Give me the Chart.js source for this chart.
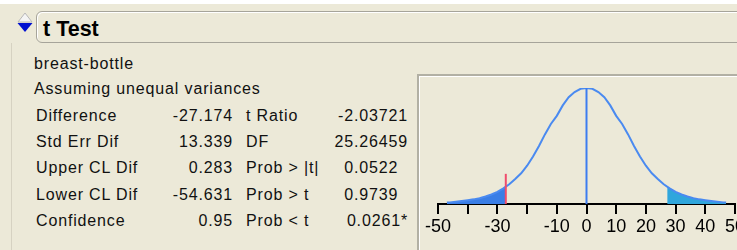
<!DOCTYPE html>
<html>
<head>
<meta charset="utf-8">
<script src="https://cdn.jsdelivr.net/npm/chart.js@4"></script>
<style>
  body { margin: 0; width: 737px; height: 250px; overflow: hidden; position: relative;
         background: #ECE9D8; font-family: "Liberation Sans", Arial, sans-serif; color: #111; }
  .topstrip { position: absolute; left: 0; top: 0; width: 737px; height: 4px; background: #fff; }
  .leftline { position: absolute; left: 11px; top: 43px; width: 1px; height: 207px; background: #D6D2C2; }
  .header { position: absolute; left: 36px; top: 11px; width: 720px; height: 30px;
            border: 1px solid #A6A49A; border-radius: 6px 0 0 6px; box-shadow: inset 1px 1px 0 #fff; }
  .title { position: absolute; left: 43px; top: 15.5px; font: bold 21.5px/26px "Liberation Sans", Arial, sans-serif; color: #000; }
  .txt { position: absolute; font-size: 16px; line-height: 20px; letter-spacing: 0.85px; white-space: nowrap; }
  .frame { position: absolute; left: 417px; top: 74px; width: 340px; height: 190px;
           border-top: 2px solid #B2B0A4; border-left: 2px solid #B2B0A4; box-shadow: inset 1px 1px 0 #fff; }
  #chartWrap { position: absolute; left: 417px; top: 76px; }
</style>
</head>
<body>
<div class="topstrip"></div>
<div class="leftline"></div>
<div class="header"></div>
<svg style="position:absolute;left:16px;top:12px" width="18" height="22">
  <polygon points="9,1 16,10 2,10" fill="#F4F4F4" stroke="#B8B8B8" stroke-width="1"/>
  <polygon points="1.5,11 16.5,11 9,20" fill="#0010D0"/>
</svg>
<div class="title">t Test</div>
<div class="frame"></div>
<div id="chartWrap"><canvas id="tChart" width="360" height="174"></canvas></div>

<script>
// summary text
const groupName = 'breast-bottle';
const noteText = 'Assuming unequal variances';
const statLabels = ['Difference', 'Std Err Dif', 'Upper CL Dif', 'Lower CL Dif', 'Confidence'];
const statValues = ['-27.174', '13.339', '0.283', '-54.631', '0.95'];
const testLabels = ['t Ratio', 'DF', 'Prob > |t|', 'Prob > t', 'Prob < t'];
const testValues = ['-2.03721', '25.26459', '0.0522', '0.9739', '0.0261*'];

// curve (height as % of peak)
const curveX = [-47, -46, -44, -42, -40, -38, -36, -34, -32, -30, -28, -26, -24, -22, -20, -18, -16, -14, -12, -10, -8, -6, -4, -2,
                0, 2, 4, 6, 8, 10, 12, 14, 16, 18, 20, 22, 24, 26, 28, 30, 32, 34, 36, 38, 40, 42, 44, 46, 47];
const curveY = [1.2, 1.4, 1.9, 2.5, 3.2, 4, 5, 6.5, 8.2, 10.5, 13.5, 17, 21.5, 26.5, 33, 41, 50, 60, 69, 76, 85, 92, 96.5, 99.3,
                100, 99.3, 96.5, 92, 85, 76, 69, 60, 50, 41, 33, 26.5, 21.5, 17, 13.5, 10.5, 8.2, 6.5, 5, 4, 3.2, 2.5, 1.9, 1.4, 1.2];
const estimate = -27.174;
const cutHeight = 15;
const markerHeight = 26;
const tickLabels = [-50, -30, -10, 0, 10, 20, 30, 40, 50];

function addText(text, left, top, width, align) {
    const d = document.createElement('div');
    d.className = 'txt';
    d.style.left = left + 'px';
    d.style.top = top + 'px';
    if (width) { d.style.width = width + 'px'; d.style.textAlign = align; }
    d.innerHTML = text;
    document.body.appendChild(d);
}

// pad to 5 places after the point so the column lines up on the decimal
function decAlign(v) {
    const after = v.length - v.indexOf('.') - 1;
    const pad = Math.max(0, 5 - after);
    return v + '<span style="visibility:hidden">' + '0'.repeat(pad) + '</span>';
}

addText(groupName, 34, 54);
addText(noteText, 34, 79);
statLabels.forEach((lab, i) => {
    const top = 105.5 + i * 26.4;
    addText(lab, 36, top);
    addText(statValues[i], 132, top, 101, 'right');
    addText(testLabels[i], 246, top);
    addText(decAlign(testValues[i]), 320, top, 88, 'right');
});

const pts = curveX.map((x, i) => ({ x: x, y: curveY[i] }));
const leftTail = pts.filter(p => p.x <= estimate).concat([{ x: estimate, y: cutHeight }]);
const rightTail = [{ x: -estimate, y: cutHeight }].concat(pts.filter(p => p.x >= -estimate));

new Chart(document.getElementById('tChart').getContext('2d'), {
    type: 'line',
    data: {
        datasets: [
            { data: pts, borderColor: '#4A8AF0', borderWidth: 2, pointRadius: 0, fill: false, order: 1 },
            { data: [{ x: 0, y: 0 }, { x: 0, y: 100 }], borderColor: '#3C7CF0', borderWidth: 2, pointRadius: 0, order: 0 },
            { data: [{ x: estimate, y: 0 }, { x: estimate, y: markerHeight }], borderColor: '#F04C6C', borderWidth: 2, pointRadius: 0, order: 0 },
            { data: leftTail, borderWidth: 0, pointRadius: 0, fill: 'origin', backgroundColor: '#3A7EE6', order: 3 },
            { data: rightTail, borderWidth: 0, pointRadius: 0, fill: 'origin', backgroundColor: '#2FA6DC', order: 3 }
        ]
    },
    options: {
        responsive: false,
        animation: false,
        devicePixelRatio: 1,
        layout: { padding: { left: 21, right: 42, top: 12, bottom: 0 } },
        plugins: { legend: { display: false }, tooltip: { enabled: false } },
        elements: { line: { tension: 0 } },
        scales: {
            x: {
                type: 'linear', min: -50, max: 50,
                afterFit: function (scale) { scale.height = 46; },
                border: { display: true, color: '#000', width: 2 },
                grid: { drawOnChartArea: false, drawTicks: true, tickLength: 10, color: '#000', lineWidth: 2 },
                ticks: {
                    stepSize: 10, padding: 2, color: '#000', maxRotation: 0, autoSkip: false,
                    font: { family: '"Liberation Sans", Arial, sans-serif', size: 18 },
                    callback: function (v) { return tickLabels.includes(v) ? String(v) : ''; }
                }
            },
            y: { display: false, min: 0, max: 100 }
        }
    }
});
</script>
</body>
</html>
